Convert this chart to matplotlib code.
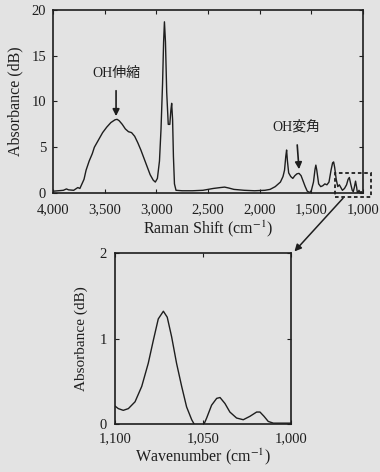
import matplotlib
matplotlib.use("Agg")
import matplotlib.pyplot as plt
from matplotlib.patches import Rectangle, ConnectionPatch
from matplotlib.ticker import FuncFormatter

# Espectro completo (número de onda, absorbancia)
raman_x = [4000, 3950, 3900, 3870, 3850, 3800, 3760, 3740, 3720, 3700, 3680, 3650, 3620, 3600,
           3560, 3520, 3480, 3440, 3400, 3380, 3360, 3330, 3300, 3270, 3240, 3210, 3180, 3150,
           3120, 3090, 3060, 3030, 3010, 2990, 2970, 2955, 2940, 2930, 2922, 2912, 2900, 2885,
           2870, 2860, 2852, 2843, 2835, 2825, 2810, 2750, 2650, 2550, 2450, 2380, 2340, 2300,
           2250, 2150, 2050, 1950, 1900, 1850, 1800, 1775, 1760, 1748, 1740, 1732, 1720, 1700,
           1680, 1660, 1640, 1620, 1600, 1580, 1560, 1540, 1515, 1500, 1480, 1465, 1457, 1448,
           1430, 1410, 1390, 1370, 1350, 1330, 1310, 1295, 1285, 1275, 1260, 1245, 1230, 1215,
           1200, 1180, 1160, 1145, 1133, 1120, 1105, 1095, 1085, 1073, 1062, 1055, 1050, 1040,
           1027, 1018, 1005, 1000]
raman_y = [0.2, 0.25, 0.3, 0.45, 0.35, 0.3, 0.6, 0.5, 1.0, 1.5, 2.5, 3.5, 4.3, 5.0,
           5.8, 6.6, 7.2, 7.7, 8.0, 8.05, 7.9, 7.5, 7.0, 6.7, 6.6, 6.2, 5.5, 4.7,
           3.8, 2.9, 2.0, 1.4, 1.2, 1.6, 3.5, 7.0, 12.0, 16.5, 18.7, 16.5, 11.0, 7.5,
           7.5, 9.0, 9.8, 8.0, 4.0, 1.0, 0.3, 0.25, 0.25, 0.3, 0.5, 0.6, 0.65, 0.55,
           0.4, 0.3, 0.25, 0.3, 0.4, 0.7, 1.2, 1.8, 2.5, 4.0, 4.7, 3.5, 2.2, 1.8,
           1.6, 1.9, 2.1, 2.15, 1.9, 1.3, 0.7, 0.2, 0.05, 0.3, 1.2, 2.6, 3.05, 2.5,
           1.0, 0.7, 0.8, 1.0, 0.9, 1.2, 2.5, 3.3, 3.4, 2.8, 1.5, 0.7, 0.9, 0.6,
           0.3, 0.5, 0.9, 1.5, 1.7, 1.0, 0.3, 0.15, 0.6, 1.3, 0.6, 0.0, 0.0, 0.3,
           0.05, 0.15, 0.0, 0.05]

# Ampliación 1100-1000 cm-1
zoom_x = [1100, 1098.1, 1095.3, 1092.4, 1088.6, 1084.8, 1081.1, 1078.2, 1075.4, 1072.5,
          1070.3, 1067.8, 1065.0, 1062.1, 1059.3, 1056.4, 1054.5, 1052, 1049.8, 1047.9,
          1045.1, 1042.2, 1040.3, 1037.5, 1034.7, 1030.9, 1027.1, 1023.3, 1019.5, 1017.6,
          1015.3, 1012.9, 1010.0, 1005, 1000]
zoom_y = [0.21, 0.18, 0.16, 0.18, 0.26, 0.44, 0.71, 0.98, 1.23, 1.32,
          1.25, 1.02, 0.71, 0.44, 0.20, 0.05, -0.02, -0.05, -0.02, 0.07,
          0.22, 0.30, 0.31, 0.24, 0.14, 0.07, 0.05, 0.09, 0.14, 0.14,
          0.09, 0.03, 0.01, 0.01, 0.01]

top_yticks = [0, 5, 10, 15, 20]
top_xticks = [4000, 3500, 3000, 2500, 2000, 1500, 1000]
zoom_yticks = [0, 1, 2]
zoom_xticks = [1100, 1050, 1000]

plt.rcParams["font.family"] = ["Liberation Serif", "Noto Sans CJK JP"]
plt.rcParams["mathtext.fontset"] = "stix"
bg = "#e3e3e3"
ink = "#1e1e1e"
miles = FuncFormatter(lambda v, p: f"{v:,.0f}")

fig = plt.figure(figsize=(3.8, 4.72), dpi=100, facecolor=bg)

# ---- Panel superior
ax = fig.add_axes([0.1395, 0.591, 0.816, 0.388], facecolor=bg)
ax.plot(raman_x, raman_y, color=ink, lw=1.0)
ax.set_xlim(4000, 1000)
ax.set_ylim(0, 20)
ax.set_xticks(top_xticks)
ax.set_yticks(top_yticks)
ax.xaxis.set_major_formatter(miles)
ax.tick_params(direction="in", top=True, right=True, length=3, labelsize=10.5,
               colors=ink)
ax.tick_params(axis="x", pad=7)
ax.tick_params(axis="y", pad=5)
for s in ax.spines.values():
    s.set_linewidth(1.2)
    s.set_color(ink)
ax.set_xlabel("Raman Shift (cm$^{-1}$)", fontsize=11.5, color=ink, labelpad=2)
ax.set_ylabel("Absorbance (dB)", fontsize=11.5, color=ink, labelpad=6)

# Anotaciones
ax.annotate("OH伸縮", xy=(3390, 8.4), xytext=(3390, 13.1), ha="center", va="center",
            fontsize=10, color=ink,
            arrowprops=dict(arrowstyle="-|>", color=ink, lw=1.2, mutation_scale=10,
                            shrinkA=6, shrinkB=0))
ax.annotate("OH変角", xy=(1620, 2.6), xytext=(1650, 7.2), ha="center", va="center",
            fontsize=10, color=ink,
            arrowprops=dict(arrowstyle="-|>", color=ink, lw=1.2, mutation_scale=10,
                            shrinkA=6, shrinkB=0))

# Recuadro punteado
ax.add_patch(Rectangle((1270, -0.45), 922 - 1270, 2.65, fill=False, ls=(0, (2, 1.5)),
                       lw=1.3, ec=ink, clip_on=False))

# ---- Panel ampliado
ax2 = fig.add_axes([0.3026, 0.1017, 0.463, 0.362], facecolor=bg)
ax2.plot(zoom_x, zoom_y, color=ink, lw=1.0)
ax2.set_xlim(1100, 1000)
ax2.set_ylim(0, 2)
ax2.set_xticks(zoom_xticks)
ax2.set_yticks(zoom_yticks)
ax2.xaxis.set_major_formatter(miles)
ax2.tick_params(direction="in", top=True, right=True, length=3, labelsize=10.5,
                colors=ink)
ax2.tick_params(axis="x", pad=6)
ax2.tick_params(axis="y", pad=6)
for s in ax2.spines.values():
    s.set_linewidth(1.2)
    s.set_color(ink)
ax2.set_xlabel("Wavenumber (cm$^{-1}$)", fontsize=11.5, color=ink, labelpad=1)
ax2.set_ylabel("Absorbance (dB)", fontsize=11, color=ink, labelpad=8)

# Flecha de conexión
con = ConnectionPatch(xyA=(1193, -0.55), coordsA=ax.transData,
                      xyB=(1.02, 1.01), coordsB=ax2.transAxes,
                      arrowstyle="-|>", color=ink, lw=1.1, mutation_scale=10)
fig.add_artist(con)

fig.savefig("out.png", dpi=100, facecolor=bg)
